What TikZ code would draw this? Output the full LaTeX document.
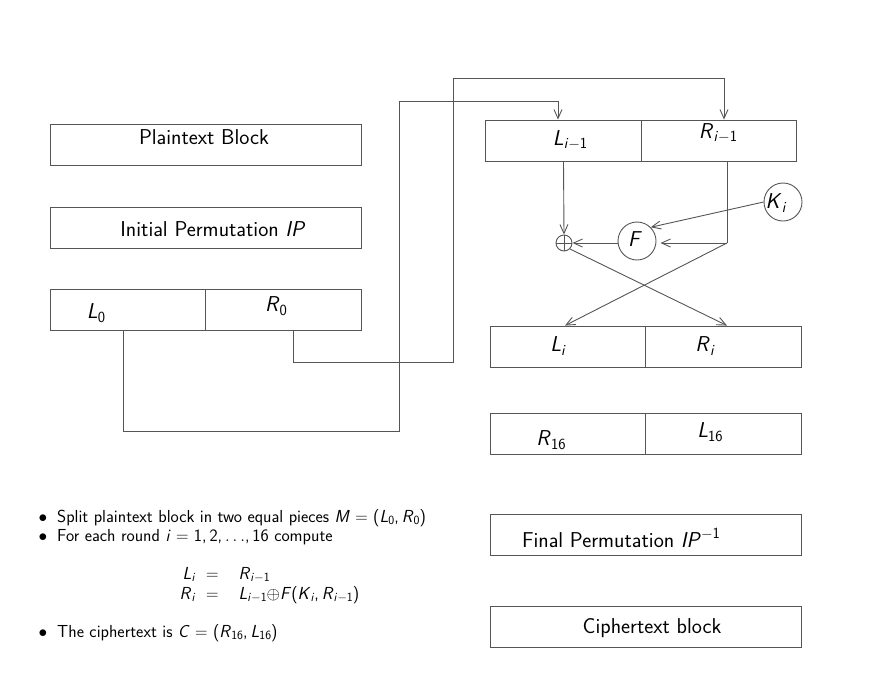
\documentclass[tikz,border=0pt]{standalone}
\usepackage{fontspec}
\usetikzlibrary{arrows.meta,calc}
\definecolor{ln}{HTML}{555555}
\newcommand\mv[1]{\textit{#1}}
\newcommand\subs[1]{\raisebox{-0.38ex}{\scalebox{0.72}{#1}}}
\newcommand\supr[1]{\raisebox{0.95ex}{\scalebox{0.72}{#1}}}
\newcommand\imo{\subs{\mv{i}$-$1}}
\tikzset{
  box/.style={draw=ln, line width=0.9pt, minimum height=41pt, inner sep=0pt},
  wbox/.style={box, minimum width=311pt},
  hbox/.style={box, minimum width=155.5pt},
  wire/.style={draw=ln, line width=0.9pt},
  arr/.style={wire, -{Straight Barb[length=9pt,width=8pt]}},
  bt/.style={font=\fontsize{21.5}{25}\selectfont\sffamily, inner sep=0pt},
  st/.style={font=\fontsize{17.4}{20}\selectfont\sffamily, inner sep=0pt, anchor=base west},
  ring/.style={draw=ln, line width=0.9pt, circle, inner sep=0pt},
}
\begin{document}
\begin{tikzpicture}[x=1pt,y=-1pt]
\useasboundingbox (0,0) rectangle (876,686);
% left column
\node[wbox] (pt) at (205.5,144.5) {};
\node[bt] at (204,137) {Plaintext Block};
\node[wbox] (ip) at (205.5,227.5) {};
\node[bt] at (213,229) {Initial Permutation \mv{IP}};
\node[hbox] (l0) at (128,309.5) {};
\node[hbox] (r0) at (283.5,309.5) {};
\node[bt] at (96,313) {\mv{L}\subs{0}};
\node[bt] at (276,306) {\mv{R}\subs{0}};
% right column
\node[hbox] (li1) at (563.5,140.5) {};
\node[hbox] (ri1) at (719,140.5) {};
\node[bt] at (570,140) {\mv{L}\imo};
\node[bt] at (718,133) {\mv{R}\imo};
\node[hbox] (li) at (568,346.5) {};
\node[hbox] (ri) at (723.5,346.5) {};
\node[bt] at (558,346) {\mv{L}\subs{\mv{i}}};
\node[bt] at (705,346) {\mv{R}\subs{\mv{i}}};
\node[hbox] (r16) at (568,433.5) {};
\node[hbox] (l16) at (723.5,433.5) {};
\node[bt] at (551,440) {\mv{R}\subs{16}};
\node[bt] at (710,432) {\mv{L}\subs{16}};
\node[wbox] (fp) at (645.5,534.5) {};
\node[bt] at (621,538) {Final Permutation \mv{IP}\supr{$-$1}};
\node[wbox] (cb) at (645.5,626.5) {};
\node[bt] at (652,628) {Ciphertext block};
% round function
\node[ring, minimum size=16pt] (xor) at (564,243) {};
\draw[wire] (xor.north) -- (xor.south) (xor.west) -- (xor.east);
\node[ring, minimum size=38pt] (F) at (637,241) {};
\node[bt] at (635,239) {\mv{F}};
\node[ring, minimum size=38pt] (K) at (783,202) {};
\node[bt] at (776,203) {\mv{K}\subs{\mv{i}}};
\coordinate (jr) at (727,243);
% connectors
\draw[arr] ([xshift=9.5]r0.south) |- (453,362) -- (453,78) -| ([xshift=5]ri1.north);
\draw[arr] ([xshift=-5]l0.south) |- (399,431) -- (399,101) -| ([xshift=-5.5]li1.north);
\draw[arr] (li1.south) -- (xor.north);
\draw[wire] ([xshift=8]ri1.south) -- (jr);
\draw[arr, shorten >=4pt] (jr) -- (F.east |- jr);
\draw[arr] (K.west) -- (F.north east);
\draw[arr] (F.west |- xor) -- (xor.east);
\draw[arr] (jr) -- ([xshift=-3]li.north);
\draw[arr] (xor.south east) -- ([xshift=3.5]ri.north);
% text
\node[st, anchor=base] (b1) at (43,522) {$\bullet$};
\node[st] at (57,522) {Split plaintext block in two equal pieces \mv{M} $=$ (\mv{L}\subs{0},\,\mv{R}\subs{0})};
\node[st, anchor=base] (b2) at (43,541) {$\bullet$};
\node[st] at (57,541) {For each round \mv{i} $=$ 1,\,2,\,$\ldots$,\,16 compute};
\node[st] (eq) at (175,579) {\begin{tabular}[t]{@{}r@{\hspace{11pt}}c@{\hspace{20pt}}l@{}}
\makebox[20pt][r]{\mv{L}\subs{\mv{i}}} & $=$ & \mv{R}\imo\\
\makebox[20pt][r]{\mv{R}\subs{\mv{i}}} & $=$ & \mv{L}\imo$\oplus$\mv{F}(\mv{K}\subs{\mv{i}},\,\mv{R}\imo)
\end{tabular}};
\node[st, anchor=base] (b3) at (43,637) {$\bullet$};
\node[st] at (57,637) {The ciphertext is \mv{C} $=$ (\mv{R}\subs{16},\,\mv{L}\subs{16})};
\end{tikzpicture}
\end{document}
